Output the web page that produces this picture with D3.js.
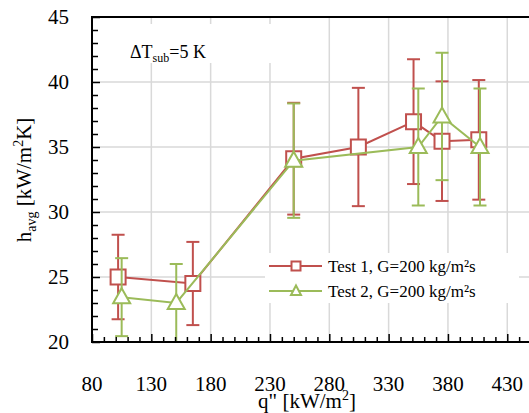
<!DOCTYPE html>
<html>
<head>
<meta charset="utf-8">
<script src="https://cdn.jsdelivr.net/npm/d3@7"></script>
<style>
  body { margin: 0; }
  html body svg#chart text, html body svg#chart tspan { font-family: 'Liberation Serif' !important; }
</style>
</head>
<body>
<div id="plot"></div>
<script>
// Data
const test1Q = [102, 165, 250, 304.5, 351, 375, 406];
const test1H = [25.0, 24.5, 34.1, 35.0, 36.95, 35.45, 35.55];
const test1Err = [3.25, 3.2, 4.3, 4.55, 4.8, 4.6, 4.6];

const test2Q = [105, 151, 250, 355, 375, 407];
const test2H = [23.45, 23.0, 33.95, 35.0, 37.35, 35.0];
const test2Err = [3.0, 3.0, 4.4, 4.5, 4.9, 4.5];

const xTicks = [80, 130, 180, 230, 280, 330, 380, 430];
const yTicks = [20, 25, 30, 35, 40, 45];
const seriesNames = ["Test 1, G=200 kg/m\u00b2s", "Test 2, G=200 kg/m\u00b2s"];

const width = 529, height = 413;
const margin = { top: 17, bottom: 71, left: 92, right: -2 };

const svg = d3.select('#plot')
  .append('svg')
  .attr('id', 'chart')
  .attr('width', width)
  .attr('height', height);

function addText(parent, size) {
  return parent.append('text')
    .style('font-family', "'Liberation Serif'")
    .style('font-size', size + 'px');
}

const x = d3.scaleLinear()
  .domain([80, 450])
  .range([margin.left, width - margin.right]);

const y = d3.scaleLinear()
  .domain([20, 45])
  .range([height - margin.bottom, margin.top]);

const red = '#c0504d', green = '#9bbb59';

// Gridlines
svg.append('g')
  .selectAll('line')
  .data(xTicks.slice(1))
  .join('line')
  .attr('x1', d => x(d)).attr('x2', d => x(d))
  .attr('y1', y(45)).attr('y2', y(20))
  .attr('stroke', '#d9d9d9').attr('stroke-width', 1.5);

svg.append('g')
  .selectAll('line')
  .data(yTicks.slice(1, -1))
  .join('line')
  .attr('x1', x(80)).attr('x2', width)
  .attr('y1', d => y(d)).attr('y2', d => y(d))
  .attr('stroke', '#d9d9d9').attr('stroke-width', 1.5);

// Annotation box
svg.append('rect')
  .attr('x', 122).attr('y', 24)
  .attr('width', 152).attr('height', 39)
  .attr('fill', '#fff');

const ann = addText(svg, 18)
  .attr('x', 130).attr('y', 58);
ann.append('tspan').text('\u0394T');
ann.append('tspan').attr('dy', 4).style('font-size', '12px').text('sub');
ann.append('tspan').attr('dy', -4).text('=5 K');

// Clip for data
svg.append('clipPath').attr('id', 'clip')
  .append('rect')
  .attr('x', x(80)).attr('y', y(45) - 1)
  .attr('width', width - x(80)).attr('height', y(20) - y(45) + 2);

const plot = svg.append('g').attr('clip-path', 'url(#clip)');

const line = d3.line().x(d => x(d.q)).y(d => y(d.h));

function drawSeries(qs, hs, errs, color, marker) {
  const pts = qs.map((q, i) => ({ q, h: hs[i], e: errs[i] }));
  const g = plot.append('g');
  g.append('path')
    .datum(pts)
    .attr('d', line)
    .attr('fill', 'none')
    .attr('stroke', color)
    .attr('stroke-width', 2);

  const eb = g.append('g').selectAll('g').data(pts).join('g')
    .attr('stroke', color).attr('stroke-width', 2);
  eb.append('line')
    .attr('x1', d => x(d.q)).attr('x2', d => x(d.q))
    .attr('y1', d => y(d.h + d.e)).attr('y2', d => y(d.h - d.e));
  eb.append('line')
    .attr('x1', d => x(d.q) - 6.5).attr('x2', d => x(d.q) + 6.5)
    .attr('y1', d => y(d.h + d.e)).attr('y2', d => y(d.h + d.e));
  eb.append('line')
    .attr('x1', d => x(d.q) - 6.5).attr('x2', d => x(d.q) + 6.5)
    .attr('y1', d => y(d.h - d.e)).attr('y2', d => y(d.h - d.e));

  g.append('g').selectAll('path').data(pts).join('path')
    .attr('transform', d => `translate(${x(d.q)},${y(d.h)})`)
    .attr('d', marker)
    .attr('fill', '#fff')
    .attr('stroke', color)
    .attr('stroke-width', 2);
}

const squareBig = 'M-7.5,-7.5H7.5V7.5H-7.5Z';
const triBig = 'M0,-9L8.5,6H-8.5Z';

drawSeries(test1Q, test1H, test1Err, red, squareBig);
drawSeries(test2Q, test2H, test2Err, green, triBig);

// Axes (ticks only; labels drawn separately)
const xAxis = svg.append('g')
  .attr('transform', `translate(0,${y(20)})`)
  .call(d3.axisBottom(x).tickValues(d3.range(80, 451, 10)).tickSize(-5).tickFormat(''));
xAxis.selectAll('.tick line')
  .attr('stroke-width', 1.5)
  .attr('y2', d => xTicks.includes(d) ? -8 : -5);
xAxis.selectAll('.tick text').remove();
xAxis.select('.domain').remove();
svg.append('line')
  .attr('x1', x(80) - 1).attr('x2', width)
  .attr('y1', y(20)).attr('y2', y(20))
  .attr('stroke', '#000').attr('stroke-width', 2);

const yAxis = svg.append('g')
  .attr('transform', `translate(${x(80)},0)`)
  .call(d3.axisLeft(y).tickValues(d3.range(20, 46, 1)).tickSize(-6).tickFormat(''));
yAxis.selectAll('.tick line')
  .attr('stroke-width', 1.5)
  .attr('x2', d => yTicks.includes(d) ? 8 : 6);
yAxis.selectAll('.tick text').remove();
yAxis.select('.domain').remove();
svg.append('line')
  .attr('x1', x(80)).attr('x2', x(80))
  .attr('y1', y(45) - 1).attr('y2', y(20) + 1)
  .attr('stroke', '#000').attr('stroke-width', 2);

// Top border
svg.append('line')
  .attr('x1', x(80) - 1).attr('x2', width)
  .attr('y1', y(45)).attr('y2', y(45))
  .attr('stroke', '#000').attr('stroke-width', 2);

// Tick labels
const xLab = svg.append('g');
xTicks.forEach(t => {
  addText(xLab, 21)
    .attr('x', x(t)).attr('y', 391)
    .attr('text-anchor', 'middle')
    .text(t);
});

const yLab = svg.append('g');
yTicks.forEach(t => {
  addText(yLab, 21)
    .attr('x', 69).attr('y', y(t) + 7)
    .attr('text-anchor', 'end')
    .text(t);
});

// Axis labels
const xl = addText(svg, 21)
  .attr('x', 307).attr('y', 408)
  .attr('text-anchor', 'middle');
xl.append('tspan').text('q" [kW/m');
xl.append('tspan').attr('dy', -8).style('font-size', '14px').text('2');
xl.append('tspan').attr('dy', 8).text(']');

const yl = addText(svg, 21)
  .attr('transform', 'translate(31,180) rotate(-90)')
  .attr('text-anchor', 'middle');
yl.append('tspan').text('h');
yl.append('tspan').attr('dy', 5).style('font-size', '14px').text('avg');
yl.append('tspan').attr('dy', -5).text(' [kW/m');
yl.append('tspan').attr('dy', -8).style('font-size', '14px').text('2');
yl.append('tspan').attr('dy', 8).text('K]');

// Legend
const legend = svg.append('g');
legend.append('rect')
  .attr('x', 265).attr('y', 253)
  .attr('width', 254).attr('height', 50)
  .attr('fill', '#fff');

const legendItems = [
  { name: seriesNames[0], color: red, marker: 'M-4.5,-4.5H4.5V4.5H-4.5Z' },
  { name: seriesNames[1], color: green, marker: 'M0,-5.5L5,4H-5Z' }
];

legendItems.forEach((d, i) => {
  const item = legend.append('g')
    .attr('transform', `translate(0,${266 + i * 25})`);
  item.append('line')
    .attr('x1', 269).attr('x2', 322)
    .attr('stroke', d.color).attr('stroke-width', 2);
  item.append('path')
    .attr('transform', 'translate(296,0)')
    .attr('d', d.marker)
    .attr('fill', '#fff')
    .attr('stroke', d.color).attr('stroke-width', 2);
  addText(item, 17)
    .attr('x', 328).attr('y', 6)
    .text(d.name);
});
</script>
</body>
</html>
